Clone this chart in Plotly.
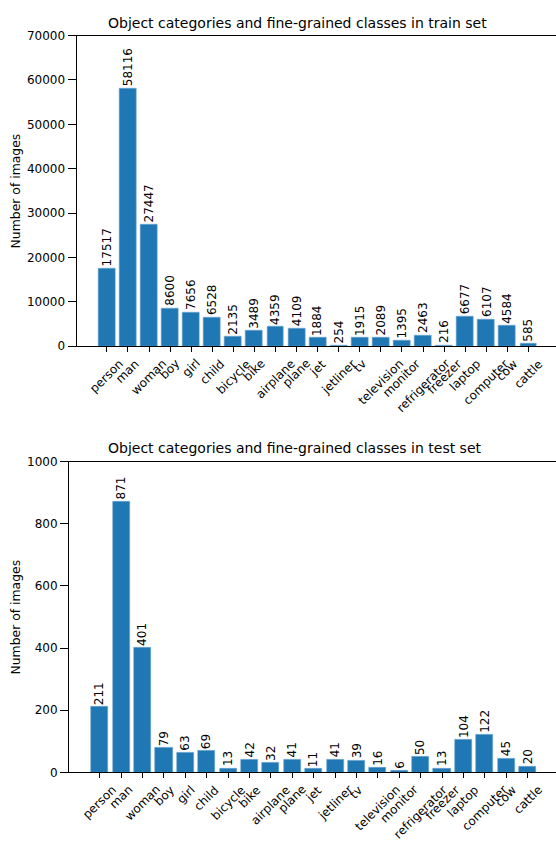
import plotly.graph_objects as go

# Class names shared by both panels
categories = ["person", "man", "woman", "boy", "girl", "child", "bicycle", "bike",
              "airplane", "plane", "jet", "jetliner", "tv", "television", "monitor",
              "refrigerator", "freezer", "laptop", "computer", "cow", "cattle"]

train_counts = [17517, 58116, 27447, 8600, 7656, 6528, 2135, 3489, 4359, 4109,
                1884, 254, 1915, 2089, 1395, 2463, 216, 6677, 6107, 4584, 585]
test_counts = [211, 871, 401, 79, 63, 69, 13, 42, 32, 41, 11, 41, 39, 16, 6,
               50, 13, 104, 122, 45, 20]

train_yticks = [0, 10000, 20000, 30000, 40000, 50000, 60000, 70000]
test_yticks = [0, 200, 400, 600, 800, 1000]

titles = ["Object categories and fine-grained classes in train set",
          "Object categories and fine-grained classes in test set"]
ytitle = "Number of images"
BLUE = "#1f77b4"
FONT = "DejaVu Sans"
W, H = 556, 846

fig = go.Figure()

panels = [
    # (counts, yticks, title, suffix, left px, top px, bottom px, px per bar, title center px, title y px)
    (train_counts, train_yticks, titles[0], "", 76.5, 29, 345, 21.08, 297.5, 16),
    (test_counts, test_yticks, titles[1], "2", 69.0, 462.3, 778.3, 21.39, 294.5, 448),
]

n = len(train_counts)
xs = list(range(n))

for counts, yticks, title, sfx, left, top, bottom, step, tcx, tcy in panels:
    xa, ya = "x" + sfx, "y" + sfx
    xdom = [left / W, 1.0]
    ydom = [(H - bottom) / H, (H - top) / H]
    xr = [-1.44, -1.44 + (W - left) / step]

    fig.add_trace(go.Bar(x=xs, y=counts, width=0.8,
                         marker=dict(color=BLUE, line=dict(width=0.6, color="#6fa6d0")),
                         xaxis=xa, yaxis=ya, showlegend=False, hoverinfo="skip"))
    fig.layout["xaxis" + sfx] = dict(
        domain=xdom, range=xr, showgrid=False, zeroline=False, showline=True,
        linecolor="black", linewidth=1, mirror=True, ticks="outside", ticklen=5,
        tickcolor="black", tickvals=xs, showticklabels=False, anchor=ya,
    )
    fig.layout["yaxis" + sfx] = dict(
        domain=ydom, range=[0, yticks[-1]], showgrid=False, zeroline=False, showline=True,
        linecolor="black", linewidth=1, ticks="outside", ticklen=8, tickcolor="black",
        tickvals=yticks, ticktext=[str(v) for v in yticks],
        tickfont=dict(family=FONT, size=12, color="black"), anchor=xa,
    )

    # value labels above bars
    for i, v in enumerate(counts):
        fig.add_annotation(x=i, y=v, xref=xa, yref=ya, text=str(v), textangle=-90,
                           showarrow=False, xanchor="center", yanchor="bottom",
                           yshift=1, borderpad=0,
                           font=dict(family=FONT, size=12, color="black"))
    # rotated category labels
    for i, c in enumerate(categories):
        fig.add_annotation(x=i, y=0, xref=xa, yref=ya, text=c, textangle=-45,
                           showarrow=False, xanchor="center", yanchor="top",
                           yshift=-9, borderpad=0,
                           font=dict(family=FONT, size=12, color="black"))
    # panel title
    fig.add_annotation(x=tcx / W, y=1 - tcy / H, xref="paper", yref="paper",
                       text=title, showarrow=False,
                       xanchor="center", yanchor="middle",
                       font=dict(family=FONT, size=14, color="black"))
    # y axis title
    fig.add_annotation(x=15.5 / W, y=(ydom[0] + ydom[1]) / 2, xref="paper", yref="paper",
                       text=ytitle, textangle=-90, showarrow=False,
                       xanchor="center", yanchor="middle",
                       font=dict(family=FONT, size=12.4, color="black"))

fig.update_layout(width=W, height=H, margin=dict(l=0, r=0, t=0, b=0),
                  plot_bgcolor="white", paper_bgcolor="white", bargap=0)

fig.write_html("out.html")
